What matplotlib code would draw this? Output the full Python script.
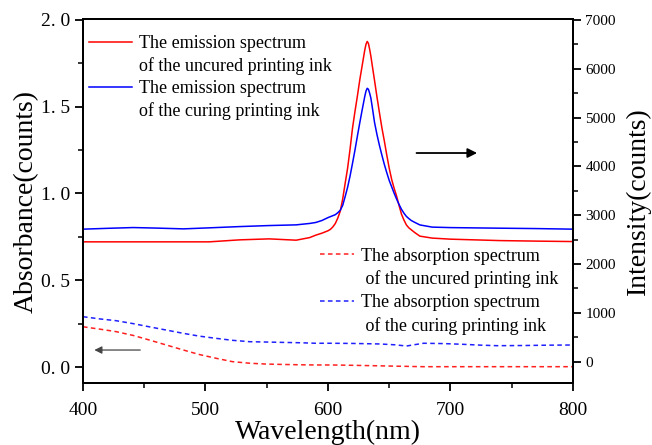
import numpy as np
import matplotlib
matplotlib.use('Agg')
from matplotlib import pyplot as plt
from matplotlib.lines import Line2D

plt.rcParams['font.family'] = ['Liberation Serif', 'DejaVu Serif']

# 发射光谱 (右轴, counts)
em_wl = [400, 420, 441, 460, 482, 503, 528, 552, 574, 585, 590, 595, 600, 602, 604, 606,
         608, 610, 612, 614, 616, 618, 620, 622, 624, 626, 628, 630, 631, 632, 633, 634,
         635, 636, 638, 640, 642, 644, 646, 648, 650, 652, 654, 656, 658, 660, 662, 664,
         666, 668, 671, 675, 685, 700, 740, 770, 800]
em_uncured = [2453, 2453, 2453, 2453, 2453, 2453, 2494, 2514, 2487, 2540, 2590, 2630, 2680,
              2710, 2760, 2830, 2940, 3080, 3330, 3650, 3960, 4350, 4780, 5120, 5440, 5780,
              6080, 6380, 6500, 6560, 6520, 6400, 6260, 6090, 5760, 5420, 5100, 4790, 4520,
              4230, 3960, 3730, 3550, 3390, 3200, 3020, 2900, 2800, 2740, 2700, 2640, 2570,
              2530, 2508, 2479, 2468, 2459]
em_curing = [2713, 2730, 2746, 2735, 2719, 2740, 2766, 2787, 2801, 2830, 2850, 2890, 2950,
             2970, 2990, 3010, 3050, 3100, 3200, 3380, 3570, 3800, 4060, 4330, 4620, 4900,
             5170, 5430, 5540, 5600, 5580, 5500, 5400, 5240, 4900, 4650, 4430, 4230, 4040,
             3870, 3710, 3580, 3450, 3330, 3220, 3120, 3040, 2975, 2930, 2890, 2850, 2800,
             2755, 2745, 2733, 2725, 2713]

# 吸收光谱 (左轴)
ab_wl = [400, 414, 427, 441, 454, 468, 482, 495, 509, 522, 536, 550, 563, 577, 590, 602,
         620, 642, 655, 664, 670, 678, 695, 710, 725, 738, 760, 780, 800]
ab_uncured = [0.232, 0.218, 0.204, 0.182, 0.156, 0.127, 0.098, 0.072, 0.050, 0.031, 0.022,
              0.017, 0.015, 0.013, 0.012, 0.012, 0.010, 0.007, 0.005, 0.004, 0.003, 0.002,
              0.002, 0.002, 0.002, 0.002, 0.002, 0.002, 0.002]
ab_curing = [0.290, 0.277, 0.267, 0.250, 0.232, 0.213, 0.194, 0.178, 0.165, 0.154, 0.146,
             0.144, 0.142, 0.140, 0.137, 0.137, 0.136, 0.133, 0.128, 0.121, 0.128, 0.137,
             0.135, 0.131, 0.126, 0.123, 0.124, 0.126, 0.127]

em_labels = [('The emission spectrum', 'of the uncured printing ink'),
             ('The emission spectrum', 'of the curing printing ink')]
ab_labels = [('The absorption spectrum', ' of the uncured printing ink'),
             ('The absorption spectrum', ' of the curing printing ink')]

left_ticks = [0.0, 0.5, 1.0, 1.5, 2.0]
left_ticklabels = ['0. 0', '0. 5', '1. 0', '1. 5', '2. 0']
right_ticks = [0, 1000, 2000, 3000, 4000, 5000, 6000, 7000]
x_ticks = [400, 500, 600, 700, 800]

fig = plt.figure(figsize=(6.52, 4.45), dpi=100)
ax = fig.add_axes([0.1273, 0.1393, 0.7515, 0.818])
ax2 = ax.twinx()

dash = (3.0, 2.2)
la1, = ax.plot(ab_wl, ab_uncured, color='#ff2020', lw=1.1, dashes=dash)
la2, = ax.plot(ab_wl, ab_curing, color='#2020ff', lw=1.1, dashes=dash)
le1, = ax2.plot(em_wl, em_uncured, color='#ff0000', lw=1.1)
le2, = ax2.plot(em_wl, em_curing, color='#0000ff', lw=1.1)

ax.set_xlim(400, 800)
ax.set_ylim(-0.092, 2.005)
ax2.set_ylim(-440, 7020)

ax.set_xticks(x_ticks)
ax.set_xticks([450, 550, 650, 750], minor=True)
ax.set_yticks(left_ticks)
ax.set_yticklabels(left_ticklabels)
ax.set_yticks([0.25, 0.75, 1.25, 1.75], minor=True)
ax2.set_yticks(right_ticks)
ax2.set_yticks([500, 1500, 2500, 3500, 4500, 5500, 6500], minor=True)

for a in (ax, ax2):
    for s in a.spines.values():
        s.set_linewidth(1.4)
    a.tick_params(which='major', direction='out', length=6, width=1.3)
    a.tick_params(which='minor', direction='out', length=3.5, width=1.1)
ax.tick_params(axis='x', which='major', labelsize=14, pad=8)
ax.tick_params(axis='y', which='major', labelsize=14, pad=3)
ax2.tick_params(axis='y', which='major', labelsize=11, pad=3)

ax.set_xlabel('Wavelength(nm)', fontsize=20, labelpad=0)
ax.set_ylabel('Absorbance(counts)', fontsize=20, labelpad=2)
ax2.set_ylabel('Intensity(counts)', fontsize=20, labelpad=7)


def two_line_legend(axis, lines, labels, anchor, hlen, spacing):
    blank = Line2D([], [], color='none')
    handles, texts = [], []
    for ln, (first, second) in zip(lines, labels):
        handles += [ln, blank]
        texts += [first, second]
    return axis.legend(handles, texts, loc='upper left', bbox_to_anchor=anchor,
                       frameon=False, fontsize=13, handlelength=hlen,
                       handletextpad=0.35, labelspacing=spacing, borderpad=0,
                       borderaxespad=0)


leg1 = two_line_legend(ax2, [le1, le2], em_labels, (0.012, 0.956), 2.4, 0.28)
ax2.add_artist(leg1)
two_line_legend(ax2, [la1, la2], ab_labels, (0.484, 0.372), 1.9, 0.33)

# 箭头
ax.annotate('', xy=(724, 1.233), xytext=(670, 1.233),
            arrowprops=dict(arrowstyle='-|>', color='black', lw=1.3, mutation_scale=14))
ax.annotate('', xy=(407, 0.098), xytext=(449, 0.098),
            arrowprops=dict(arrowstyle='-|>', color='#444444', lw=0.9, mutation_scale=11))

fig.savefig('out.png', dpi=100)
